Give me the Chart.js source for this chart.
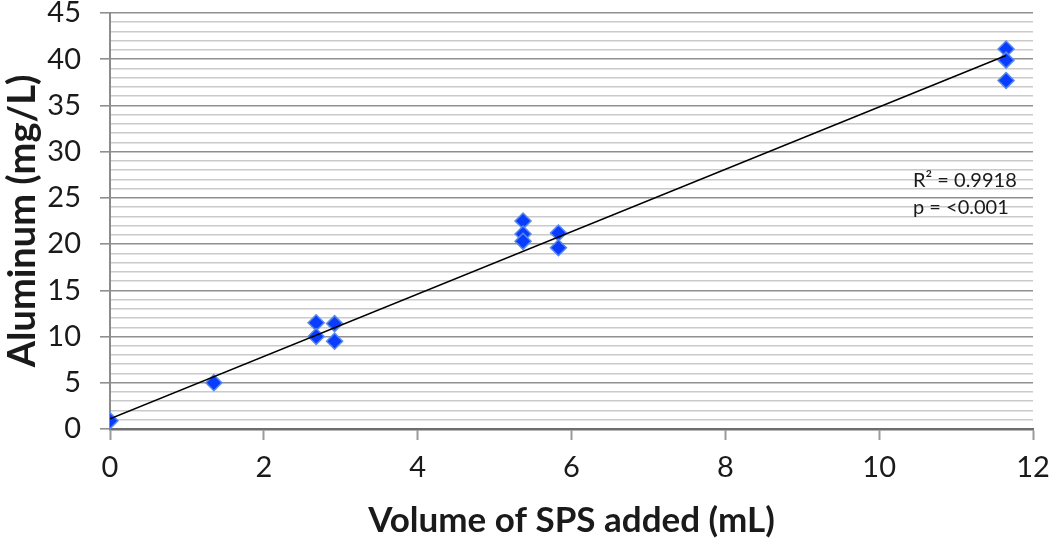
<!DOCTYPE html>
<html>
<head>
<meta charset="utf-8">
<script src="https://cdn.jsdelivr.net/npm/chart.js@4.4.0/dist/chart.umd.min.js"></script>
<style>
  html, body { margin: 0; padding: 0; background: #fff; }
  canvas { display: block; }
</style>
</head>
<body>
<canvas id="chart" width="1050" height="542"></canvas>
<script>
// readings from the picture
const volumeSPS = [0, 1.35, 2.68, 2.68, 2.92, 2.92, 5.37, 5.37, 5.37, 5.83, 5.83, 11.65, 11.65, 11.65];
const aluminum = [0.9, 5.0, 11.5, 10.0, 11.4, 9.5, 22.5, 21.1, 20.3, 21.2, 19.6, 41.1, 39.9, 37.7];
const trendX = [0, 11.65];
const trendY = [1.1, 40.4];
const statsLines = ["R\u00B2 = 0.9918", "p = <0.001"];

const fontFamily = "Lato, 'Open Sans', sans-serif";

const statsText = {
  id: "statsText",
  afterDraw(chart) {
    const ctx = chart.ctx;
    ctx.save();
    ctx.font = "20px " + fontFamily;
    ctx.fillStyle = "#1a1a1a";
    ctx.textAlign = "left";
    ctx.textBaseline = "alphabetic";
    statsLines.forEach((line, i) => {
      ctx.fillText(line, 913, 187 + i * 27);
    });
    ctx.restore();
  }
};

new Chart(document.getElementById("chart"), {
  type: "scatter",
  data: {
    datasets: [
      {
        label: "Trend",
        data: trendX.map((x, i) => ({x: x, y: trendY[i]})),
        showLine: true,
        borderColor: "#000",
        borderWidth: 1.5,
        pointRadius: 0,
        order: 0,
      },
      {
        label: "Aluminum",
        data: volumeSPS.map((x, i) => ({x: x, y: aluminum[i]})),
        pointStyle: "rectRot",
        pointRadius: 8,
        backgroundColor: "#0a3cff",
        borderColor: "#5a8ae8",
        borderWidth: 1.5,
        order: 1,
      },
    ],
  },
  options: {
    responsive: false,
    animation: false,
    layout: { padding: { top: 13, right: 17, left: 0, bottom: 0 } },
    plugins: {
      legend: { display: false },
      tooltip: { enabled: false },
    },
    scales: {
      x: {
        type: "linear",
        min: 0,
        max: 12,
        afterFit: (s) => { s.height = 113; s.paddingLeft = 0; s.paddingRight = 0; },
        border: { display: true, color: "#6e6e6e", width: 2.5 },
        grid: {
          drawOnChartArea: false,
          drawTicks: true,
          tickLength: 11,
          tickColor: "#9a9a9a",
          tickWidth: 2,
        },
        ticks: {
          stepSize: 2,
          padding: 10,
          color: "#1a1a1a",
          font: { family: fontFamily, size: 29 },
        },
        title: {
          display: true,
          text: "Volume of SPS added (mL)",
          color: "#1a1a1a",
          font: { family: fontFamily, size: 35, weight: "bold" },
          padding: { top: 0, bottom: 0 },
        },
      },
      y: {
        min: 0,
        max: 45,
        afterFit: (s) => { s.width = 110; s.paddingTop = 0; s.paddingBottom = 0; },
        border: { display: true, color: "#8c8c8c", width: 2 },
        grid: {
          color: (c) => (c.tick && c.tick.value % 5 === 0 ? "#8f8f8f" : "#cacaca"),
          lineWidth: 1.6,
          tickLength: 10,
          tickColor: (c) => (c.tick && c.tick.value % 5 === 0 ? "#8f8f8f" : "rgba(0,0,0,0)"),
        },
        ticks: {
          stepSize: 1,
          autoSkip: false,
          padding: 19,
          color: "#1a1a1a",
          font: { family: fontFamily, size: 29 },
          callback: (v) => (v % 5 === 0 ? v : ""),
        },
        title: {
          display: true,
          text: "Aluminum (mg/L)",
          color: "#1a1a1a",
          font: { family: fontFamily, size: 38, weight: "bold" },
          padding: { top: 0, bottom: 0 },
        },
      },
    },
  },
  plugins: [statsText],
});
</script>
</body>
</html>
